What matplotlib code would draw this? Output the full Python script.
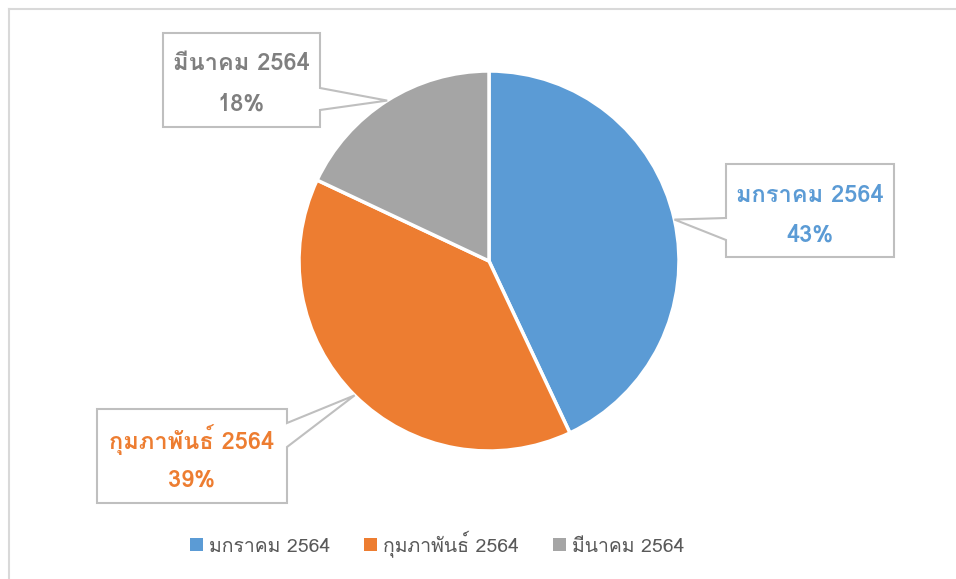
import numpy as np
import matplotlib
matplotlib.use('Agg')
from matplotlib import pyplot as plt
from matplotlib import font_manager
from matplotlib.ft2font import FT2Font
from matplotlib.patches import Polygon, Patch

# data
months = ['มกราคม 2564', 'กุมภาพันธ์ 2564', 'มีนาคม 2564']
shares = [43, 39, 18]
colors = ['#5B9BD5', '#ED7D31', '#A5A5A5']
label_colors = ['#5B9BD5', '#ED7D31', '#7F7F7F']


def find_thai_font():
	# pick the first installed font that has Thai glyphs
	for f in font_manager.fontManager.ttflist:
		try:
			if 0x0E21 in FT2Font(f.fname).get_charmap():
				return f.name
		except Exception:
			pass
	return 'DejaVu Sans'


thai = find_thai_font()
plt.rcParams['font.family'] = [thai, 'DejaVu Sans']

W, H = 956, 579
fig = plt.figure(figsize=(W / 100, H / 100), dpi=100)
ax = fig.add_axes([0, 0, 1, 1])

cx, cy, r = 489, H - 261, 190
wedges, _ = ax.pie(shares, colors=colors, startangle=90, counterclock=False,
	center=(cx, cy), radius=r,
	wedgeprops=dict(edgecolor='white', linewidth=2.5))
ax.set_xlim(0, W)
ax.set_ylim(0, H)
ax.set_aspect('auto')
ax.axis('off')

# chart border (only top and left visible)
ax.plot([9, W], [H - 9, H - 9], color='#D9D9D9', lw=1.5)
ax.plot([9, 9], [H - 9, 0], color='#D9D9D9', lw=1.5)

# callout boxes: (left, top, right, bottom) in pixels, side of pointer, pointer y range
boxes = [
	(726, 164, 894, 257, 'left', 218, 240),
	(97, 409, 287, 503, 'right', 423, 447),
	(163, 33, 320, 127, 'right', 88, 110),
]

for w, name, pct, tc, box in zip(wedges, months, shares, label_colors, boxes):
	x0, y0, x1, y1, side, p0, p1 = box
	mid = np.deg2rad((w.theta1 + w.theta2) / 2)
	tx = cx + r * np.cos(mid)
	ty = cy + r * np.sin(mid)
	Y = lambda v: H - v
	if side == 'left':
		pts = [(x0, Y(y0)), (x1, Y(y0)), (x1, Y(y1)), (x0, Y(y1)),
			(x0, Y(p1)), (tx, ty), (x0, Y(p0))]
	else:
		pts = [(x0, Y(y0)), (x1, Y(y0)), (x1, Y(p0)), (tx, ty),
			(x1, Y(p1)), (x1, Y(y1)), (x0, Y(y1))]
	ax.add_patch(Polygon(pts, closed=True, facecolor='white',
		edgecolor='#BFBFBF', lw=1.5, zorder=5))
	xc = (x0 + x1) / 2
	ax.text(xc, Y(y0 + 31), name, color=tc, fontsize=17, fontweight='bold',
		ha='center', va='center', zorder=6)
	ax.text(xc, Y(y0 + 71), f'{pct}%', color=tc, fontsize=17, fontweight='bold',
		ha='center', va='center', zorder=6)

handles = [Patch(facecolor=c, edgecolor='none') for c in colors]
leg = ax.legend(handles, months, loc='center', bbox_to_anchor=(437 / W, (H - 544) / H),
	ncol=3, frameon=False, fontsize=14, handlelength=0.67, handleheight=0.67,
	handletextpad=0.3, columnspacing=1.75)
for t in leg.get_texts():
	t.set_color('#595959')

fig.savefig('out.png', dpi=100)
